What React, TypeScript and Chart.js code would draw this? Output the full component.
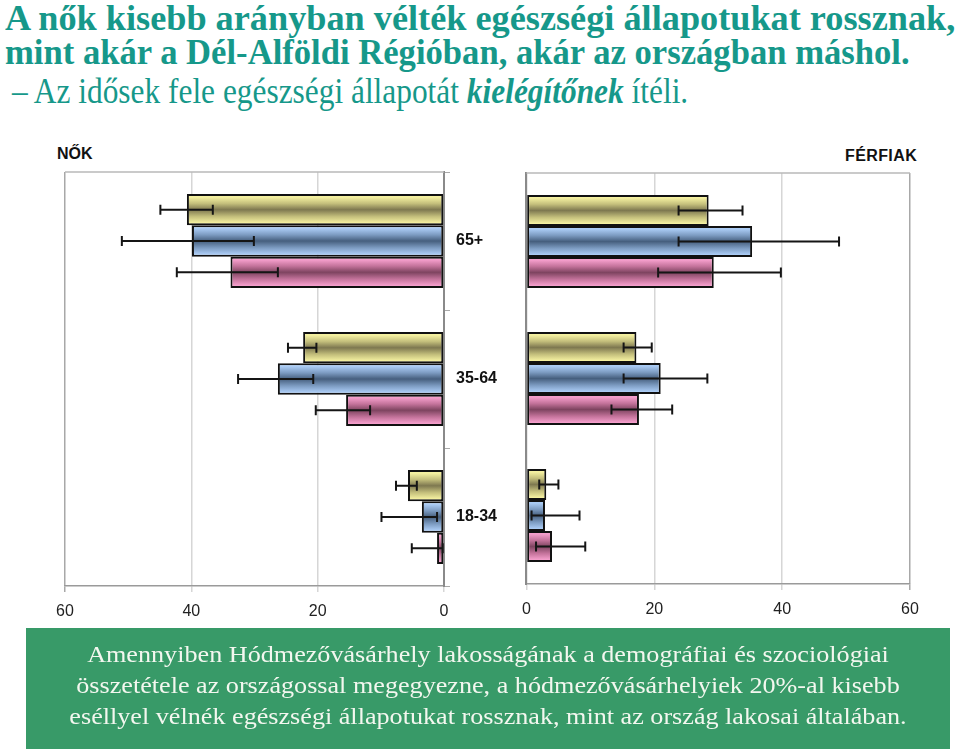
import React, { useEffect, useLayoutEffect, useRef, useState } from 'react';
import { Chart, registerables } from 'chart.js';

Chart.register(...registerables);

// ---- data ----
const categories = ['65+', '35-64', '18-34'];
const seriesNames = ['Hódmezővásárhely', 'Dél-Alföldi Régió', 'Ország'];

// Women (NŐK) – percentages, with confidence-interval bounds
const womenYellow = [40.7, 22.3, 5.7];
const womenYellowLo = [36.6, 20.2, 4.3];
const womenYellowHi = [44.9, 24.7, 7.6];
const womenBlue = [39.9, 26.3, 3.5];
const womenBlueLo = [30.1, 20.7, 1.1];
const womenBlueHi = [51.0, 32.6, 9.9];
const womenPink = [33.8, 15.5, 1.1];
const womenPinkLo = [26.3, 11.7, 0.2];
const womenPinkHi = [42.3, 20.3, 5.1];

// Men (FÉRFIAK)
const menYellow = [28.5, 17.2, 3.1];
const menYellowLo = [23.8, 15.2, 2.0];
const menYellowHi = [33.8, 19.6, 5.0];
const menBlue = [35.3, 21.0, 2.9];
const menBlueLo = [23.8, 15.2, 0.8];
const menBlueHi = [48.9, 28.3, 8.3];
const menPink = [29.3, 17.6, 4.0];
const menPinkLo = [20.6, 13.3, 1.5];
const menPinkHi = [39.8, 22.8, 9.2];

const axisMin = 0;
const axisMax = 60;
const axisStep = 20;

const titleLine1 = 'A nők kisebb arányban vélték egészségi állapotukat rossznak,';
const titleLine2 = 'mint akár a Dél-Alföldi Régióban, akár az országban máshol.';
const titleLine3a = '– Az idősek fele egészségi állapotát ';
const titleLine3b = 'kielégítőnek';
const titleLine3c = ' ítéli.';
const noteLines = [
  'Amennyiben Hódmezővásárhely lakosságának a demográfiai és szociológiai',
  'összetétele az országossal megegyezne, a hódmezővásárhelyiek 20%-al kisebb',
  'eséllyel vélnék egészségi állapotukat rossznak, mint az ország lakosai általában.',
];

// ---- styling ----
const CAT_PCT = 0.68;
const palette = [
  { light: '#f4f0a0', mid: '#c4bf7c', dark: '#7e7850' },
  { light: '#aacbf4', mid: '#7d9cc2', dark: '#465f7e' },
  { light: '#f49ecb', mid: '#c4739b', dark: '#7e4460' },
];
const SANS = '"Liberation Sans", Arial, sans-serif';
const SERIF = '"Liberation Serif", "Times New Roman", serif';

function barGradient(ctx: any, si: number) {
  const { light, mid, dark } = palette[si];
  const chart = ctx.chart;
  const ys = chart.scales && chart.scales.y;
  if (ctx.type !== 'data' || !ys || !chart.chartArea) return light;
  const catW = ys.height / categories.length;
  const band = (catW * CAT_PCT) / 3;
  const center = ys.getPixelForValue(ctx.dataIndex) + (ctx.datasetIndex - 1) * band;
  const g = chart.ctx.createLinearGradient(0, center - band / 2, 0, center + band / 2);
  g.addColorStop(0, light);
  g.addColorStop(0.1, light);
  g.addColorStop(0.3, mid);
  g.addColorStop(0.5, dark);
  g.addColorStop(0.72, mid);
  g.addColorStop(0.92, light);
  g.addColorStop(1, light);
  return g;
}

const errorBarPlugin = {
  id: 'errorBars',
  afterDatasetsDraw(chart: any) {
    const { ctx } = chart;
    const xs = chart.scales.x;
    chart.data.datasets.forEach((ds: any, di: number) => {
      const meta = chart.getDatasetMeta(di);
      meta.data.forEach((el: any, i: number) => {
        const x1 = xs.getPixelForValue(ds.errLo[i]);
        const x2 = xs.getPixelForValue(ds.errHi[i]);
        const y = el.y;
        ctx.save();
        ctx.strokeStyle = '#151515';
        ctx.lineWidth = 2;
        ctx.beginPath();
        ctx.moveTo(x1, y);
        ctx.lineTo(x2, y);
        ctx.moveTo(x1, y - 5);
        ctx.lineTo(x1, y + 5);
        ctx.moveTo(x2, y - 5);
        ctx.lineTo(x2, y + 5);
        ctx.stroke();
        ctx.restore();
      });
    });
  },
};

const framePlugin = {
  id: 'frameTop',
  beforeDatasetsDraw(chart: any) {
    const { ctx, chartArea } = chart;
    ctx.save();
    ctx.strokeStyle = '#b8b8b8';
    ctx.lineWidth = 1.5;
    ctx.beginPath();
    ctx.moveTo(chartArea.left, chartArea.top);
    ctx.lineTo(chartArea.right, chartArea.top);
    ctx.stroke();
    ctx.restore();
  },
};

function makeDatasets(vals: number[][], lo: number[][], hi: number[][]) {
  return vals.map((v, si) => ({
    label: seriesNames[si],
    data: v,
    errLo: lo[si],
    errHi: hi[si],
    backgroundColor: (c: any) => barGradient(c, si),
    borderColor: '#111',
    borderWidth: 2,
    borderSkipped: false,
    categoryPercentage: CAT_PCT,
    barPercentage: 1,
  }));
}

function SideChart({ side }: { side: 'left' | 'right' }) {
  const ref = useRef<HTMLCanvasElement>(null);
  useEffect(() => {
    if (!ref.current) return;
    const isLeft = side === 'left';
    const datasets = isLeft
      ? makeDatasets(
          [womenYellow, womenBlue, womenPink],
          [womenYellowLo, womenBlueLo, womenPinkLo],
          [womenYellowHi, womenBlueHi, womenPinkHi]
        )
      : makeDatasets(
          [menYellow, menBlue, menPink],
          [menYellowLo, menBlueLo, menPinkLo],
          [menYellowHi, menBlueHi, menPinkHi]
        );
    const chart = new Chart(ref.current, {
      type: 'bar',
      data: { labels: categories, datasets: datasets as any },
      plugins: [framePlugin, errorBarPlugin],
      options: {
        indexAxis: 'y',
        animation: false,
        responsive: false,
        maintainAspectRatio: false,
        layout: {
          padding: isLeft
            ? { left: 65, top: 22, right: 0, bottom: 0 }
            : { left: 0, top: 23, right: 50, bottom: 0 },
        },
        plugins: { legend: { display: false }, tooltip: { enabled: false } },
        scales: {
          x: {
            reverse: isLeft,
            min: axisMin,
            max: axisMax,
            ticks: {
              stepSize: axisStep,
              font: { family: SANS, size: 16 },
              color: '#222',
              padding: 10,
              maxRotation: 0,
            },
            grid: {
              color: (c: any) => (c.tick && c.tick.value === axisMax ? '#a8a8a8' : '#d6d6d6'),
              lineWidth: 1.5,
              tickLength: 6,
            },
            border: { color: '#9a9a9a', width: 1.5 },
            afterFit: (s: any) => {
              s.height = isLeft ? 44 : 46;
            },
          } as any,
          y: {
            position: isLeft ? 'right' : 'left',
            ticks: {
              display: isLeft,
              font: { family: SANS, size: 16, weight: 'bold' },
              color: '#111',
              padding: 6,
            },
            grid: { drawOnChartArea: false, drawTicks: isLeft, tickLength: 6, color: '#aaa' },
            border: { color: '#8a8a8a', width: 2 },
            afterFit: (s: any) => {
              s.width = isLeft ? 81 : 7;
            },
          } as any,
        },
      } as any,
    });
    return () => chart.destroy();
  }, [side]);
  const isLeft = side === 'left';
  const w = isLeft ? 525 : 448;
  return (
    <canvas
      ref={ref}
      width={w}
      height={480}
      style={{ position: 'absolute', left: isLeft ? 0 : 512, top: 150, width: w, height: 480 }}
    />
  );
}

function FitLine({
  left,
  top,
  target,
  bold,
  children,
}: {
  left: number;
  top: number;
  target: number;
  bold?: boolean;
  children: React.ReactNode;
}) {
  const r = useRef<HTMLSpanElement>(null);
  const [sx, setSx] = useState(1);
  useLayoutEffect(() => {
    if (r.current) setSx(target / r.current.offsetWidth);
  }, [target]);
  return (
    <div
      style={{
        position: 'absolute',
        left,
        top,
        fontFamily: SERIF,
        fontSize: 35,
        lineHeight: '35px',
        color: '#16988a',
        fontWeight: bold ? 'bold' : 'normal',
        whiteSpace: 'nowrap',
        transformOrigin: '0 0',
        transform: `scaleX(${sx})`,
      }}
    >
      <span ref={r}>{children}</span>
    </div>
  );
}

function Title() {
  return (
    <>
      <FitLine left={5} top={1} target={950} bold>
        {titleLine1}
      </FitLine>
      <FitLine left={5} top={35} target={905} bold>
        {titleLine2}
      </FitLine>
      <FitLine left={12} top={74} target={676}>
        {titleLine3a}
        <span style={{ fontStyle: 'italic', fontWeight: 'bold' }}>{titleLine3b}</span>
        {titleLine3c}
      </FitLine>
    </>
  );
}

function Note() {
  const r1 = useRef<HTMLSpanElement>(null);
  const [sx, setSx] = useState(1);
  useLayoutEffect(() => {
    if (r1.current) setSx(802 / r1.current.offsetWidth);
  }, []);
  return (
    <div
      style={{
        position: 'absolute',
        left: 26,
        top: 628,
        width: 924,
        height: 121,
        background: '#389a68',
      }}
    >
      {noteLines.map((t, i) => (
        <div
          key={i}
          style={{
            position: 'absolute',
            left: 0,
            width: 924,
            top: 14 + i * 31,
            textAlign: 'center',
            fontFamily: SERIF,
            fontSize: 24,
            lineHeight: '24px',
            color: '#f3f7ef',
            whiteSpace: 'nowrap',
            transformOrigin: '462px 0',
            transform: `scaleX(${sx})`,
          }}
        >
          <span ref={i === 0 ? r1 : undefined}>{t}</span>
        </div>
      ))}
    </div>
  );
}

export default function App() {
  return (
    <div
      style={{
        position: 'absolute',
        left: 0,
        top: 0,
        width: 960,
        height: 754,
        background: '#fff',
        overflow: 'hidden',
      }}
    >
      <Title />
      <div
        style={{
          position: 'absolute',
          left: 57,
          top: 146,
          fontFamily: SANS,
          fontWeight: 'bold',
          fontSize: 16,
          lineHeight: '16px',
          color: '#111',
        }}
      >
        NŐK
      </div>
      <div
        style={{
          position: 'absolute',
          left: 845,
          top: 148,
          fontFamily: SANS,
          fontWeight: 'bold',
          fontSize: 16,
          lineHeight: '16px',
          color: '#111',
          letterSpacing: 0.4,
        }}
      >
        FÉRFIAK
      </div>
      <SideChart side="left" />
      <SideChart side="right" />
      <Note />
    </div>
  );
}
